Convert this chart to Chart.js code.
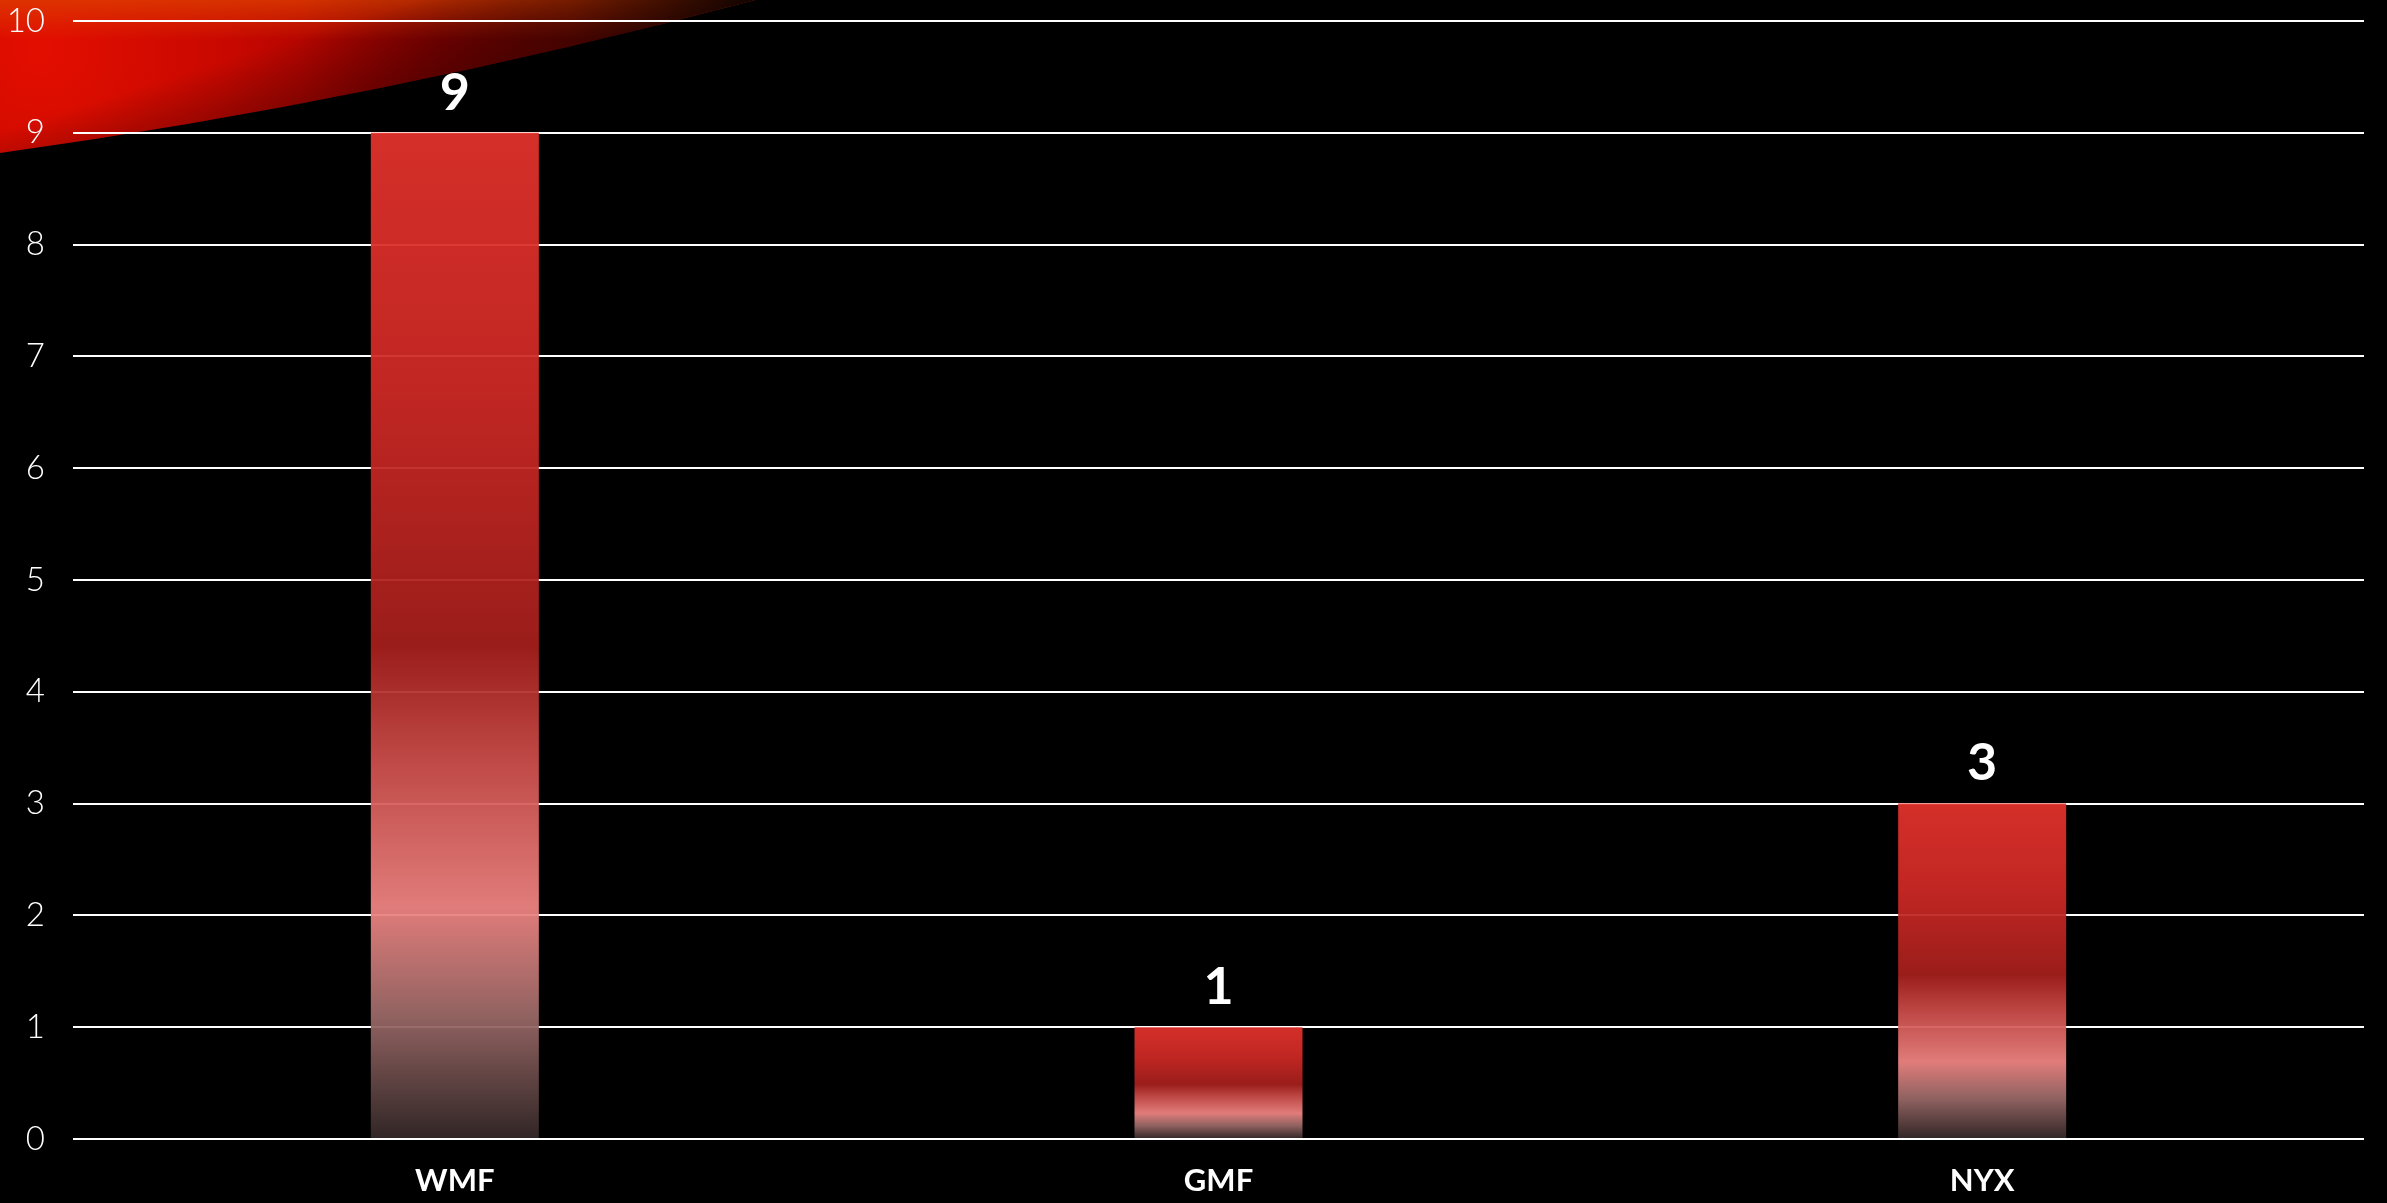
<!DOCTYPE html>
<html>
<head>
<meta charset="utf-8">
<script src="https://cdn.jsdelivr.net/npm/chart.js@4"></script>
<style>
  html, body { margin: 0; padding: 0; background: #000; }
  #wrap { width: 2387px; height: 1203px; }
</style>
</head>
<body>
<div id="wrap"><canvas id="bar-chart" width="2387" height="1203"></canvas></div>
<script>
const categories = ['WMF', 'GMF', 'NYX'];
const counts = [9, 1, 3];
const yTicks = [0, 1, 2, 3, 4, 5, 6, 7, 8, 9, 10];

// colour stops from top of bar to its base
const barStops = [
    [0.00, 'rgba(226, 50, 44, 0.94)'],
    [0.25, 'rgba(206, 41, 37, 0.94)'],
    [0.51, 'rgba(164, 31, 28, 0.94)'],
    [0.62, 'rgba(202, 76, 73, 0.94)'],
    [0.77, 'rgba(238, 132, 130, 0.94)'],
    [0.88, 'rgba(152, 104, 102, 0.94)'],
    [1.00, 'rgba(52, 40, 40, 0.94)']
];

document.addEventListener('DOMContentLoaded', function() {
    initializeBarChart();
});

function barGradient(context) {
    const chart = context.chart;
    const yScale = chart.scales.y;
    if (!yScale || !chart.chartArea) return barStops[0][1];
    const value = counts[context.dataIndex];
    const top = yScale.getPixelForValue(value);
    const base = yScale.getPixelForValue(0);
    const g = chart.ctx.createLinearGradient(0, top, 0, base);
    barStops.forEach(function(s) { g.addColorStop(s[0], s[1]); });
    return g;
}

// red swoosh in the top-left corner of the slide
const swooshPlugin = {
    id: 'swoosh',
    beforeDraw: function(chart) {
        const ctx = chart.ctx;
        ctx.save();
        ctx.fillStyle = '#000';
        ctx.fillRect(0, 0, chart.width, chart.height);

        ctx.beginPath();
        ctx.moveTo(0, 0);
        ctx.lineTo(755, 0);
        ctx.quadraticCurveTo(380, 100, 0, 153);
        ctx.closePath();

        const g = ctx.createRadialGradient(40, 50, 10, 40, 50, 720);
        g.addColorStop(0, '#e20e00');
        g.addColorStop(0.25, '#c80800');
        g.addColorStop(0.55, '#960000');
        g.addColorStop(1, '#5a0400');
        ctx.fillStyle = g;
        ctx.fill();

        // orange glow along the top edge
        const t = ctx.createLinearGradient(0, 0, 0, 40);
        t.addColorStop(0, 'rgba(222, 64, 0, 0.75)');
        t.addColorStop(1, 'rgba(222, 64, 0, 0)');
        ctx.fillStyle = t;
        ctx.fill();

        // darker lower rim
        const r = ctx.createLinearGradient(320, 30, 350, 125);
        r.addColorStop(0, 'rgba(0,0,0,0)');
        r.addColorStop(1, 'rgba(40,0,0,0.5)');
        ctx.fillStyle = r;
        ctx.fill();

        // fade out toward the tip
        const f = ctx.createLinearGradient(300, 0, 755, 0);
        f.addColorStop(0, 'rgba(0,0,0,0)');
        f.addColorStop(0.6, 'rgba(30,8,0,0.3)');
        f.addColorStop(1, 'rgba(0,0,0,0.85)');
        ctx.fillStyle = f;
        ctx.fill();
        ctx.restore();
    }
};

// value labels above each bar
const valueLabelPlugin = {
    id: 'valueLabels',
    afterDatasetsDraw: function(chart) {
        const ctx = chart.ctx;
        const meta = chart.getDatasetMeta(0);
        ctx.save();
        ctx.fillStyle = '#ffffff';
        ctx.font = 'bold 52px Lato, "DejaVu Sans", sans-serif';
        ctx.textAlign = 'center';
        ctx.textBaseline = 'middle';
        meta.data.forEach(function(bar, i) {
            ctx.fillText(String(counts[i]), bar.x, bar.y - 40);
        });
        ctx.restore();
    }
};

function initializeBarChart() {
    const ctx = document.getElementById('bar-chart').getContext('2d');

    window.barChart = new Chart(ctx, {
        type: 'bar',
        data: {
            labels: categories,
            datasets: [{
                label: 'Count',
                data: counts,
                backgroundColor: barGradient,
                borderWidth: 0,
                categoryPercentage: 1,
                barPercentage: 0.22
            }]
        },
        options: {
            responsive: false,
            animation: false,
            layout: {
                padding: { top: 21, right: 23, bottom: 0, left: 0 }
            },
            plugins: {
                legend: { display: false },
                tooltip: { enabled: false }
            },
            scales: {
                x: {
                    afterFit: function(scale) {
                        scale.height = 64;
                        scale.paddingLeft = 0;
                        scale.paddingRight = 0;
                    },
                    grid: { display: false },
                    border: { display: false },
                    ticks: {
                        color: '#ffffff',
                        padding: 15,
                        font: { family: 'Lato, "DejaVu Sans", sans-serif', size: 31, weight: 'bold' }
                    }
                },
                y: {
                    min: 0,
                    max: 10,
                    afterFit: function(scale) {
                        scale.width = 73;
                        scale.paddingTop = 0;
                        scale.paddingBottom = 0;
                    },
                    afterBuildTicks: function(scale) {
                        scale.ticks = yTicks.map(function(v) { return { value: v }; });
                    },
                    grid: {
                        color: '#ffffff',
                        lineWidth: 2,
                        drawTicks: false
                    },
                    border: { display: false },
                    ticks: {
                        color: '#ffffff',
                        padding: 28,
                        font: { family: 'Lato, "DejaVu Sans", sans-serif', size: 33, weight: 300 }
                    }
                }
            }
        },
        plugins: [swooshPlugin, valueLabelPlugin]
    });
}
</script>
</body>
</html>
